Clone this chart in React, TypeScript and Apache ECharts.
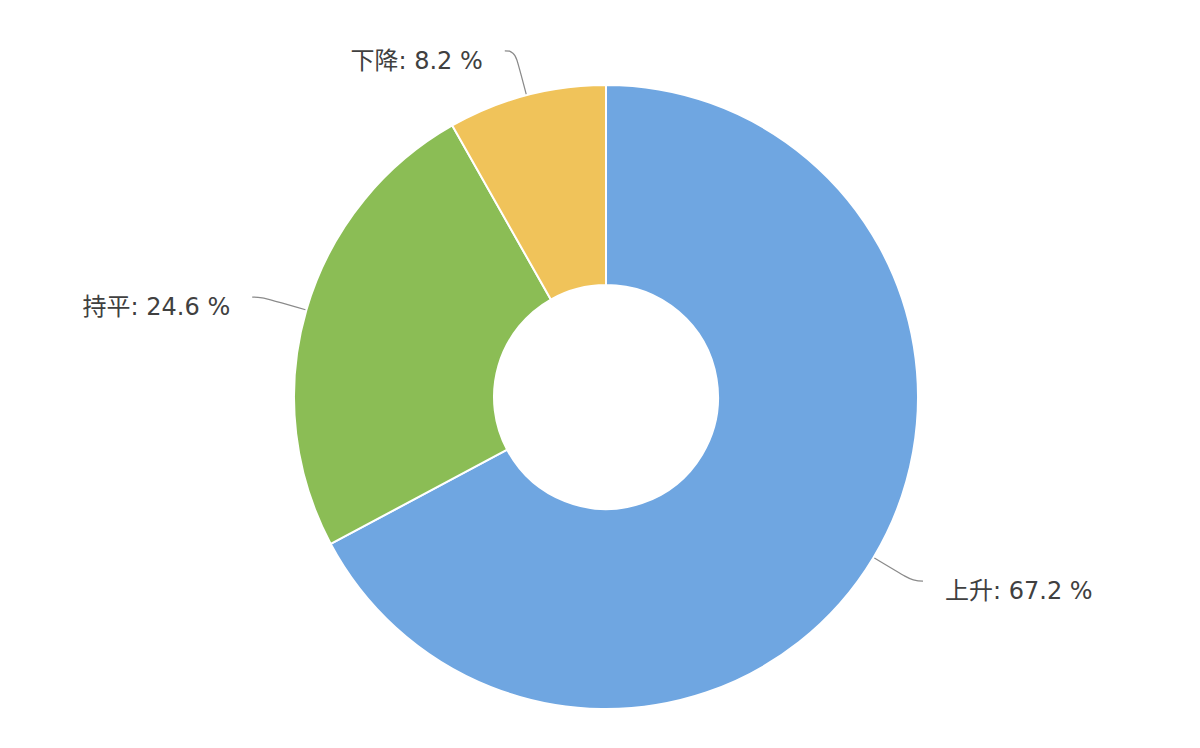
import React, { useEffect, useRef } from "react";
import * as echarts from "echarts";

const categories = ["上升", "持平", "下降"];
const values = [67.2, 24.6, 8.2];
const colors = ["#6FA6E1", "#8BBD55", "#F0C35A"];

export default function App() {
  const ref = useRef<HTMLDivElement>(null);
  useEffect(() => {
    const chart = echarts.init(ref.current!, null, { renderer: "svg" });
    chart.setOption({
      animation: false,
      backgroundColor: "#ffffff",
      series: [
        {
          type: "pie",
          center: [606, 397],
          radius: [112, 312],
          startAngle: 90,
          clockwise: true,
          avoidLabelOverlap: false,
          itemStyle: { borderColor: "#ffffff", borderWidth: 2 },
          label: {
            show: true,
            position: "outside",
            formatter: "\n{b}: {c} %",
            fontSize: 24,
            lineHeight: 20,
            color: "#404040",
            fontFamily: "'DejaVu Sans', 'Noto Sans CJK SC', sans-serif",
            distanceToLabelLine: 22,
          },
          labelLine: {
            show: true,
            length: 46,
            length2: 10,
            smooth: 0.5,
            lineStyle: { color: "#8a8a8a", width: 1.2 },
          },
          data: categories.map((name, i) => ({
            name,
            value: values[i],
            itemStyle: { color: colors[i] },
          })),
        },
      ],
    });
    return () => chart.dispose();
  }, []);
  return (
    <div
      ref={ref}
      style={{ position: "fixed", left: 0, top: 0, width: 1200, height: 748 }}
    />
  );
}
